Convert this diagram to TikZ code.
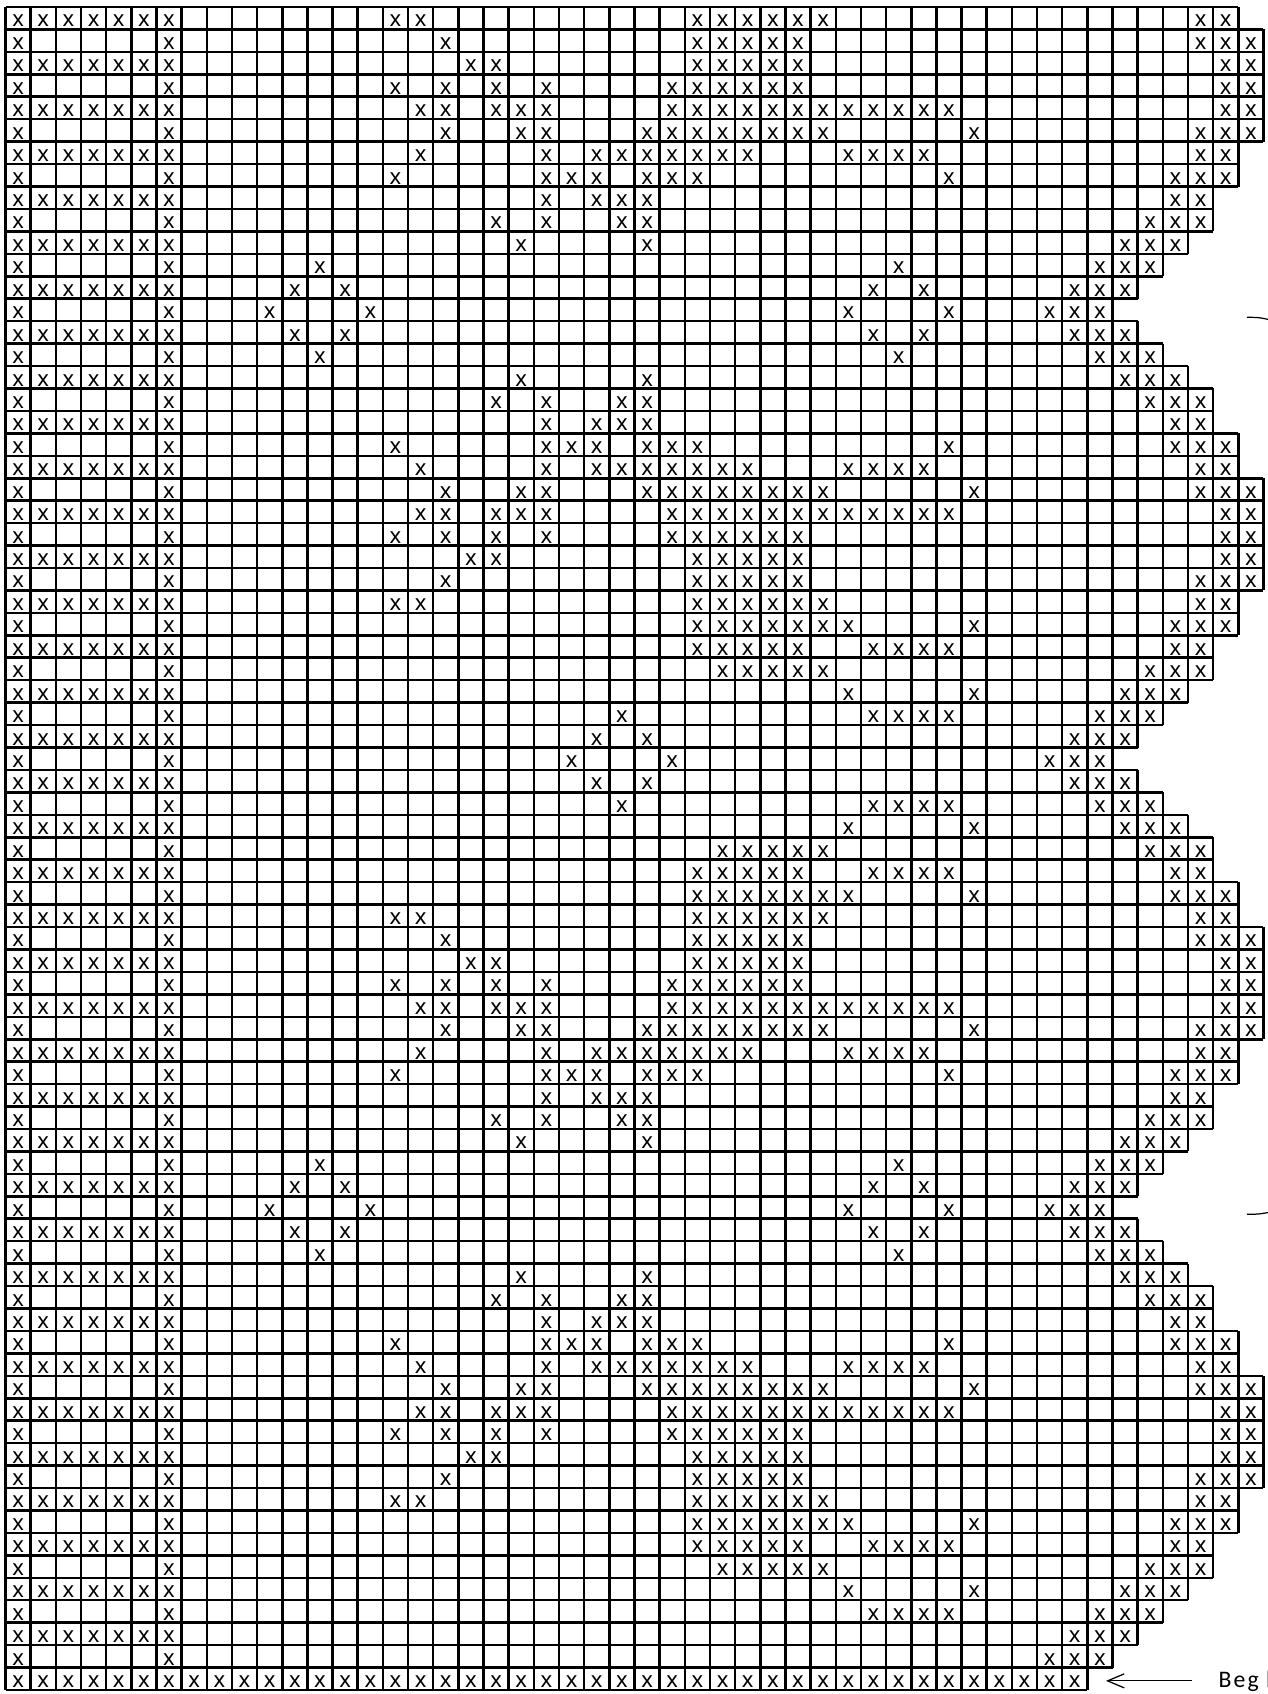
\documentclass[tikz,border=0pt]{standalone}
\usepackage{fontspec}
\setmainfont{Carlito}
\newfontfamily\stfont{Noto Sans}
\newfontfamily\begfont[LetterSpace=9]{Carlito}
\usetikzlibrary{arrows.meta}

% 每行第7列以后的 x
\def\patA{15,16,27,28,29,30,31,32,47,48}
\def\patB{17,27,28,29,30,31,47,48,49}
\def\patC{18,19,27,28,29,30,31,48,49}
\def\patD{15,17,19,21,26,27,28,29,30,31,48,49}
\def\patE{16,17,19,20,21,26,27,28,29,30,31,32,33,34,35,36,37,48,49}
\def\patF{17,20,21,25,26,27,28,29,30,31,32,38,47,48,49}
\def\patG{16,21,23,24,25,26,27,28,29,33,34,35,36,47,48}
\def\patH{15,21,22,23,25,26,27,37,46,47,48}
\def\patI{21,23,24,25,46,47}
\def\patJ{19,21,24,25,45,46,47}
\def\patK{20,25,44,45,46}
\def\patL{12,35,43,44,45}
\def\patM{11,13,34,36,42,43,44}
\def\patN{10,14,33,37,41,42,43}
\def\patO{27,28,29,30,31,32,33,38,46,47,48}
\def\patP{27,28,29,30,31,34,35,36,37,46,47}
\def\patQ{28,29,30,31,32,45,46,47}
\def\patR{33,38,44,45,46}
\def\patS{24,34,35,36,37,43,44,45}
\def\patT{23,25,42,43,44}
\def\patU{22,26,41,42,43}
\def\patSb{34,35,36,37,43,44,45}
\def\patTb{42,43,44}
\def\patUb{41,42,43}
\def\patBot{7,...,42}

\tikzset{
  cell/.style={line width=1.45pt},
  st/.style={font=\stfont\fontsize{12.5pt}{12.5pt}\selectfont, inner sep=0pt, anchor=base},
  thinline/.style={line width=0.7pt},
}

\begin{document}
\begin{tikzpicture}[x=0.5032cm, y=-0.4488cm]
    \useasboundingbox (-0.219,-0.312) rectangle (50.18,75.18);
    \clip (-0.219,-0.312) rectangle (50.18,75.18);

    % 网格与图案
    \gdef\prevext{0}
    \foreach \r/\ext/\pat in {0/48/\patA, 1/49/\patB, 2/49/\patC, 3/49/\patD,
        4/49/\patE, 5/49/\patF, 6/48/\patG, 7/48/\patH, 8/47/\patI, 9/47/\patJ,
        10/46/\patK, 11/45/\patL, 12/44/\patM, 13/43/\patN, 14/44/\patM,
        15/45/\patL, 16/46/\patK, 17/47/\patJ, 18/47/\patI, 19/48/\patH,
        20/48/\patG, 21/49/\patF, 22/49/\patE, 23/49/\patD, 24/49/\patC,
        25/49/\patB, 26/48/\patA, 27/48/\patO, 28/47/\patP, 29/47/\patQ,
        30/46/\patR, 31/45/\patS, 32/44/\patT, 33/43/\patU, 34/44/\patT,
        35/45/\patS, 36/46/\patR, 37/47/\patQ, 38/47/\patP, 39/48/\patO,
        40/48/\patA, 41/49/\patB, 42/49/\patC, 43/49/\patD, 44/49/\patE,
        45/49/\patF, 46/48/\patG, 47/48/\patH, 48/47/\patI, 49/47/\patJ,
        50/46/\patK, 51/45/\patL, 52/44/\patM, 53/43/\patN, 54/44/\patM,
        55/45/\patL, 56/46/\patK, 57/47/\patJ, 58/47/\patI, 59/48/\patH,
        60/48/\patG, 61/49/\patF, 62/49/\patE, 63/49/\patD, 64/49/\patC,
        65/49/\patB, 66/48/\patA, 67/48/\patO, 68/47/\patP, 69/47/\patQ,
        70/46/\patR, 71/45/\patSb, 72/44/\patTb, 73/43/\patUb, 74/42/\patBot} {
        \pgfmathtruncatemacro\topext{max(\ext,\prevext)+1}
        \pgfmathtruncatemacro\rend{\ext+1}
        \draw[cell] (0,\r) -- (\topext,\r)
            foreach \c in {0,...,\rend} {(\c,\r) -- (\c,\r+1)};
        \xdef\prevext{\ext}
        \edef\cols{\pat}
        \foreach \c in \cols {\node[st] (x\r-\c) at (\c+0.5,\r+0.89) {x};}
    }
    \draw[cell] (0,75) -- (43,75);

    % 左侧边框
    \foreach \r in {0,2,...,74}
        \foreach \c in {0,...,6} {\node[st] (x\r-\c) at (\c+0.5,\r+0.89) {x};}
    \foreach \r in {1,3,...,73}
        \foreach \c in {0,6} {\node[st] (x\r-\c) at (\c+0.5,\r+0.89) {x};}

    % 起点说明
    \node[font=\begfont\fontsize{13.5pt}{13.5pt}\selectfont, inner sep=0pt, anchor=base west]
        (beg) at (48.2,74.87) {Beg here};
    \coordinate (tip) at (43.74,74.6);
    \draw[thinline, -{Straight Barb[length=9.5pt,width=8pt]}, shorten <=0.52cm]
        (beg.west) -- (beg.west -| tip);

    % 右侧标记
    \draw[thinline] (49.34,13.83) .. controls (49.8,13.83) .. (50.3,13.95);
    \draw[thinline] (49.34,53.8) .. controls (49.8,53.8) .. (50.3,53.7);
\end{tikzpicture}
\end{document}
